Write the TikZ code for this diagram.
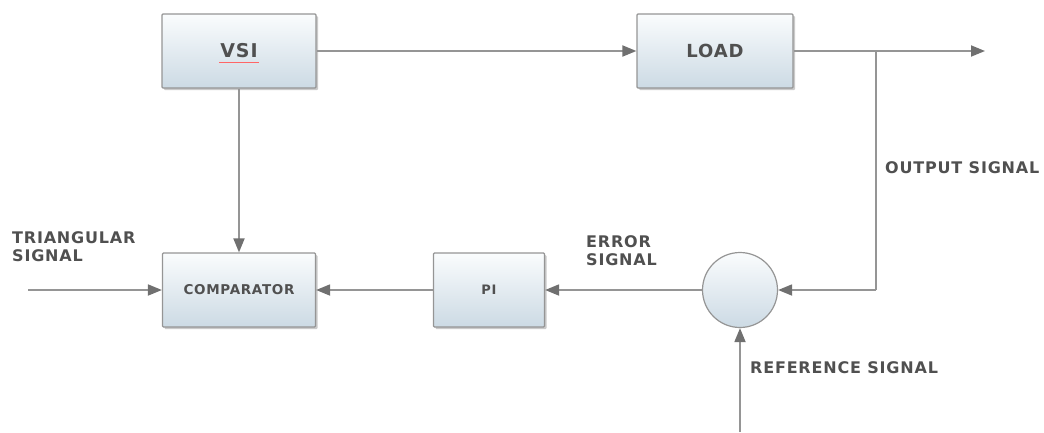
\documentclass[tikz,border=0pt]{standalone}
\usepackage{fontspec}
\setmainfont{DejaVu Sans}
\usetikzlibrary{shadows,arrows.meta}
\definecolor{linegray}{HTML}{959595}
\definecolor{tipgray}{HTML}{707070}
\definecolor{txtgray}{HTML}{505050}
\definecolor{boxtop}{HTML}{FAFCFD}
\definecolor{boxbot}{HTML}{CCDAE4}
\newfontfamily\lblfont[LetterSpace=5]{DejaVu Sans Bold}
\tikzset{
  blk/.style={draw=linegray, line width=1.2pt, rounded corners=1pt,
    top color=boxtop, bottom color=boxbot,
    drop shadow={shadow xshift=2pt, shadow yshift=-2pt, fill=black!35, opacity=0.6},
    text=txtgray, inner sep=0pt, font=\lblfont},
  sumc/.style={circle, draw=linegray, line width=1.2pt,
    top color=boxtop, bottom color=boxbot, minimum size=75pt, inner sep=0pt},
  conn/.style={draw=linegray, line width=1.8pt,
    -{Triangle[length=14pt,width=11pt,fill=tipgray,color=tipgray]}},
  plain/.style={draw=linegray, line width=1.8pt},
  lbl/.style={text=txtgray, font=\lblfont\fontsize{16}{18}\selectfont, align=left, inner sep=0pt}
}
\begin{document}
\begin{tikzpicture}[x=1pt,y=-1pt]
\useasboundingbox (0,0) rectangle (1044,432);
% blocks
\node[blk, minimum width=154pt, minimum height=74pt, font=\lblfont\fontsize{19}{21}\selectfont] (vsi) at (239,51) {VSI};
\node[blk, minimum width=156pt, minimum height=74pt, font=\lblfont\fontsize{18}{21}\selectfont] (load) at (715,51) {LOAD};
\node[blk, minimum width=153pt, minimum height=74pt, font=\lblfont\fontsize{13.5}{15}\selectfont] (comp) at (239,290) {COMPARATOR};
\node[blk, minimum width=111pt, minimum height=74pt, font=\lblfont\fontsize{13}{15}\selectfont] (pi) at (489,290) {PI};
\node[sumc] (sum) at (740,290) {};
% red spell-check underline under VSI
\draw[red!60, line width=0.8pt] ([xshift=-20pt,yshift=-11pt]vsi.center) -- ([xshift=20pt,yshift=-11pt]vsi.center);
% coordinates
\coordinate (outend) at (985,51);
\coordinate (branch) at (876,51);
\coordinate (fbcorner) at (876,290);
\coordinate (refstart) at (740,432);
\coordinate (tristart) at (28,290);
% connectors
\draw[conn] (vsi.east) -- (load.west);
\draw[conn] (load.east) -- (outend);
\draw[plain] (branch) -- (fbcorner);
\draw[conn] (fbcorner) -- (sum.east);
\draw[conn] (refstart) -- (sum.south);
\draw[conn] (sum.west) -- (pi.east);
\draw[conn] (pi.west) -- (comp.east);
\draw[conn] (tristart) -- (comp.west);
\draw[conn] (vsi.south) -- (comp.north);
% labels
\node[lbl, anchor=north west] (tri) at (12,231) {TRIANGULAR\\SIGNAL};
\node[lbl, anchor=north west] (err) at (586,235) {ERROR\\SIGNAL};
\node[lbl, anchor=west] (outl) at (885,168) {OUTPUT SIGNAL};
\node[lbl, anchor=west] (refl) at (750,368) {REFERENCE SIGNAL};
\end{tikzpicture}
\end{document}
